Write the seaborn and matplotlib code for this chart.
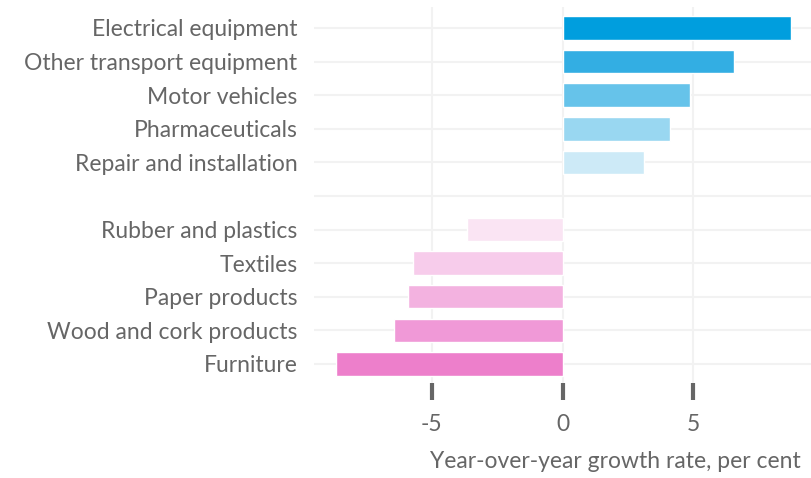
import seaborn as sns
import matplotlib.pyplot as plt
import pandas as pd

# Industries and year-over-year growth (per cent)
industries = ["Electrical equipment", "Other transport equipment", "Motor vehicles",
              "Pharmaceuticals", "Repair and installation",
              "Rubber and plastics", "Textiles", "Paper products",
              "Wood and cork products", "Furniture"]
growth = [8.74, 6.56, 4.89, 4.12, 3.13, -3.66, -5.73, -5.92, -6.45, -8.66]
colors = ["#009ede", "#33aee3", "#66c3ea", "#99d7f1", "#cdeaf7",
          "#fae4f3", "#f7cceb", "#f3b2e0", "#f099d7", "#ed7fcb"]
# empty slot separates growing and shrinking industries
order = industries[:5] + [" "] + industries[5:]

df = pd.DataFrame({"industry": industries, "growth": growth})

sns.set_style("white")
plt.rcParams["font.family"] = ["Lato", "DejaVu Sans"]

fig = plt.figure(figsize=(8.11, 4.78), dpi=100)
ax = fig.add_axes([314 / 811, 1 - 383 / 478, 1 - 314 / 811, (383 - 7) / 478])

sns.barplot(data=df, x="growth", y="industry", hue="industry", order=order,
            palette=dict(zip(industries, colors)), width=0.7, legend=False,
            saturation=1, ax=ax)

ax.set_xlim(-9.5, 9.5)
ax.set_ylim(10.57, -0.625)
ax.set_xticks([-5, 0, 5])
ax.set_xticklabels(["-5", "0", "5"])
ax.grid(True, color="#f2f2f2", linewidth=1.5)
ax.set_axisbelow(True)
for s in ax.spines.values():
    s.set_visible(False)

ax.tick_params(axis="y", left=False, length=0, pad=12, labelsize=16.5,
               labelcolor="#666666")
ax.tick_params(axis="x", bottom=True, length=12, width=3, color="#666666",
               direction="out", pad=10, labelsize=16.5, labelcolor="#666666")
ax.set_ylabel("")
ax.set_xlabel("Year-over-year growth rate, per cent", fontsize=16.5, color="#666666")
ax.xaxis.set_label_coords(0.606, -0.18)

fig.savefig("out.png", dpi=100)
